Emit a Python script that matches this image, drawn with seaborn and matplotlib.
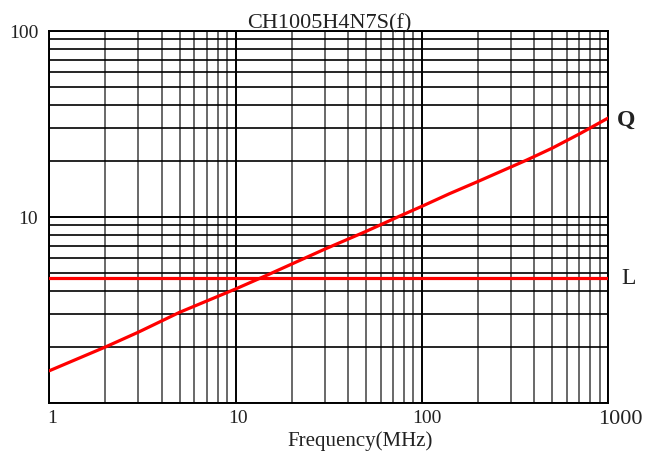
import numpy as np
import pandas as pd
import matplotlib
matplotlib.use("Agg")
import matplotlib.pyplot as plt
import matplotlib.transforms as mtrans
import seaborn as sns

# data
freq_q = [1, 2, 3, 5, 10, 15, 30, 50, 76, 100, 140, 200, 365, 500, 700, 1000]
q_vals = [1.49, 2.0, 2.4, 3.07, 4.1, 4.9, 6.7, 8.35, 10.1, 11.4, 13.3, 15.5, 20.2, 23.4, 27.9, 34.0]
freq_l = [1, 10, 100, 1000]
l_vals = [4.7, 4.7, 4.7, 4.7]

title = "CH1005H4N7S(f)"
x_ticks = [1, 10, 100, 1000]
x_ticklabels = ["1", "10", "100", "1000"]
y_ticks = [1, 10, 100]
y_ticklabels = ["", "10", "100"]

# style
sns.set_style("white")
plt.rcParams["font.family"] = ["Liberation Serif", "DejaVu Serif"]
plt.rcParams["axes.linewidth"] = 1.4

RED = "#ff0000"

df_q = pd.DataFrame({"freq": freq_q, "val": q_vals})
df_l = pd.DataFrame({"freq": freq_l, "val": l_vals})

fig = plt.figure(figsize=(6.48, 4.56), dpi=100)
ax = fig.add_axes([0.0761, 0.114, 0.8627, 0.8165])

sns.lineplot(data=df_q, x="freq", y="val", ax=ax, color=RED, linewidth=2.3, zorder=5)
sns.lineplot(data=df_l, x="freq", y="val", ax=ax, color=RED, linewidth=2.3, zorder=5)

ax.set_xscale("log")
ax.set_yscale("log")
ax.set_xlim(1, 1000)
ax.set_ylim(1, 100)

ax.set_xticks(x_ticks)
ax.set_xticklabels(x_ticklabels)
ax.set_yticks(y_ticks)
ax.set_yticklabels(y_ticklabels)
ax.xaxis.set_minor_locator(matplotlib.ticker.LogLocator(base=10, subs=np.arange(2, 10)))
ax.yaxis.set_minor_locator(matplotlib.ticker.LogLocator(base=10, subs=np.arange(2, 10)))
ax.xaxis.set_minor_formatter(matplotlib.ticker.NullFormatter())
ax.yaxis.set_minor_formatter(matplotlib.ticker.NullFormatter())

ax.tick_params(which="both", length=0)
ax.tick_params(axis="x", pad=4, labelsize=14, colors="#222222")
ax.tick_params(axis="y", pad=8, labelsize=14, colors="#222222")

# grid
ax.grid(which="major", axis="both", color="black", linewidth=1.4)
ax.grid(which="minor", axis="y", color="black", linewidth=1.2)
ax.grid(which="minor", axis="x", color="0.25", linewidth=1.1)
ax.set_axisbelow(True)

# nudge the x tick labels a little right like the scan
x_shift = [3, 2, 5, 12]
for lab, dx in zip(ax.get_xticklabels(), x_shift):
    lab.set_transform(lab.get_transform() + mtrans.ScaledTranslation(dx / 100, 0, fig.dpi_scale_trans))
ax.get_xticklabels()[-1].set_fontsize(16)

ax.set_xlabel("Frequency(MHz)", fontsize=15, color="#222222")
ax.xaxis.set_label_coords(0.556, -0.072)
ax.set_ylabel("")
ax.set_title(title, fontsize=16, pad=2, color="#222222")

# curve names on the right
ax.text(1.016, 33.6, "Q", transform=ax.get_yaxis_transform(), fontsize=17,
        fontweight="bold", ha="left", va="center", color="#222222")
ax.text(1.024, 4.7, "L", transform=ax.get_yaxis_transform(), fontsize=17,
        ha="left", va="center", color="#222222")

for s in ax.spines.values():
    s.set_color("black")

fig.savefig("out.png", dpi=100)
